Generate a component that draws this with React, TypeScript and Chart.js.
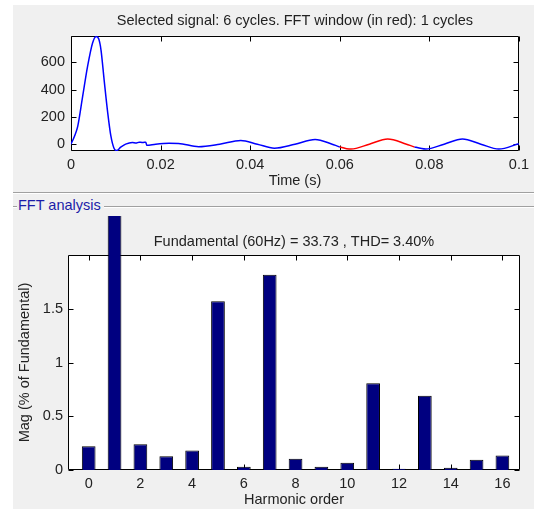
import React, { useEffect, useRef } from "react";
import { Chart, registerables } from "chart.js";

Chart.register(...registerables);

// ---------- DATA ----------
const topTitle = "Selected signal: 6 cycles. FFT window (in red): 1 cycles";
const bottomTitle = "Fundamental (60Hz) = 33.73 , THD= 3.40%";
const panelLabel = "FFT analysis";

const signalTime = [
  0, 0.0008, 0.0015, 0.0026, 0.0037, 0.0048, 0.0056, 0.0062, 0.0067, 0.0074,
  0.0082, 0.0089, 0.0096, 0.0102, 0.0111, 0.0122, 0.0137, 0.0145, 0.0152, 0.016,
  0.0167, 0.0169, 0.0189, 0.0219, 0.024, 0.0285, 0.0332, 0.0379, 0.0416, 0.0454,
  0.05, 0.0545, 0.0583, 0.06, 0.0625, 0.0666, 0.0707, 0.0749, 0.0767, 0.0792,
  0.0833, 0.0874, 0.0915, 0.0955, 0.1,
];
// Signal value at each time above
const signalValue = [
  0, 60, 130, 350, 570, 740, 790, 770, 690, 470,
  230, 60, -30, -47, -22, 0, 12, 8, 15, 12,
  15, -8, 0, 6, 5, -18, 0, 27, 0, -29,
  0, 34, 0, -20, -36, 0, 38, 0, -20, -36,
  0, 38, 0, -36, 4,
];
const fftWindowStart = 0.06;
const fftWindowEnd = 0.0767;

const timeTicks = [0, 0.02, 0.04, 0.06, 0.08, 0.1];
const timeTickLabels = ["0", "0.02", "0.04", "0.06", "0.08", "0.1"];
const signalTicks = [0, 200, 400, 600];

const harmonicOrder = [0, 1, 2, 3, 4, 5, 6, 7, 8, 9, 10, 11, 12, 13, 14, 15, 16];
const harmonicMag = [
  0.22, 100, 0.24, 0.127, 0.182, 1.57, 0.031, 1.817, 0.105, 0.031,
  0.068, 0.806, 0.012, 0.691, 0.02, 0.096, 0.136,
];
const harmonicTicks = [0, 2, 4, 6, 8, 10, 12, 14, 16];
const magTicks = [0, 0.5, 1, 1.5];
const magTickLabels = ["0", "0.5", "1", "1.5"];

// ---------- STYLE ----------
const FONT = '"Liberation Sans", Arial, sans-serif';
const TEXT = "#222222";
const FS = 14.5;

const matlabAxes = {
  id: "matlabAxes",
  beforeDraw(chart: any) {
    const { ctx, chartArea: a } = chart;
    ctx.save();
    ctx.fillStyle = "#ffffff";
    ctx.fillRect(a.left, a.top, a.right - a.left, a.bottom - a.top);
    ctx.restore();
  },
  beforeDatasetsDraw(chart: any) {
    const { ctx, chartArea: a, scales } = chart;
    const L = Math.round(a.left) + 0.5;
    const R = Math.round(a.right) - 0.5;
    const T = Math.round(a.top) + 0.5;
    const B = Math.round(a.bottom) - 0.5;
    const len = 5;
    ctx.save();
    ctx.strokeStyle = "#000";
    ctx.lineWidth = 1;
    ctx.beginPath();
    ctx.rect(L, T, R - L, B - T);
    const xs = scales.x;
    xs.ticks.forEach((t: any) => {
      const px = Math.round(xs.getPixelForValue(t.value)) + 0.5;
      ctx.moveTo(px, B);
      ctx.lineTo(px, B - len);
      ctx.moveTo(px, T);
      ctx.lineTo(px, T + len);
    });
    const ys = scales.y;
    ys.ticks.forEach((t: any) => {
      const py = Math.round(ys.getPixelForValue(t.value)) + 0.5;
      ctx.moveTo(L, py);
      ctx.lineTo(L + len, py);
      ctx.moveTo(R, py);
      ctx.lineTo(R - len, py);
    });
    ctx.stroke();
    ctx.restore();
  },
};

function SignalChart() {
  const ref = useRef<HTMLCanvasElement>(null);
  useEffect(() => {
    if (!ref.current) return;
    const data = signalTime.map((t, i) => ({ x: t, y: signalValue[i] }));
    const chart = new Chart(ref.current, {
      type: "line",
      data: {
        datasets: [
          {
            data,
            borderColor: "#0000ff",
            borderWidth: 1.5,
            pointRadius: 0,
            cubicInterpolationMode: "monotone",
            segment: {
              borderColor: (c: any) =>
                c.p0.parsed.x >= fftWindowStart - 1e-9 &&
                c.p1.parsed.x <= fftWindowEnd + 1e-9
                  ? "#ff0000"
                  : "#0000ff",
            },
          } as any,
        ],
      },
      options: {
        animation: false,
        responsive: false,
        events: [],
        layout: { padding: { left: 0, right: 14.5, top: 0, bottom: 0 } },
        plugins: {
          legend: { display: false },
          tooltip: { enabled: false },
          title: {
            display: true,
            fullSize: false,
            text: topTitle,
            color: TEXT,
            font: { family: FONT, size: FS, weight: "normal", lineHeight: 1.2 },
            padding: { top: 7.5, bottom: 5.8 },
          },
        },
        scales: {
          x: {
            type: "linear",
            min: 0,
            max: 0.1,
            afterBuildTicks: (s: any) => {
              s.ticks = timeTicks.map((v) => ({ value: v }));
            },
            afterFit: (s: any) => {
              s.height = 41;
            },
            grid: { display: false, drawTicks: false },
            border: { display: false },
            ticks: {
              color: TEXT,
              font: { family: FONT, size: FS },
              padding: 5,
              maxRotation: 0,
              callback: (v: any) => {
                const i = timeTicks.findIndex((t) => Math.abs(t - v) < 1e-9);
                return i >= 0 ? timeTickLabels[i] : "";
              },
            },
            title: {
              display: true,
              text: "Time (s)",
              color: TEXT,
              font: { family: FONT, size: FS, lineHeight: 1.2 },
              padding: { top: 0, bottom: 2.3 },
            },
          },
          y: {
            type: "linear",
            min: -50,
            max: 795,
            afterBuildTicks: (s: any) => {
              s.ticks = signalTicks.map((v) => ({ value: v }));
            },
            afterFit: (s: any) => {
              s.width = 58;
            },
            grid: { display: false, drawTicks: false },
            border: { display: false },
            ticks: {
              color: TEXT,
              font: { family: FONT, size: FS },
              padding: 6,
              callback: (v: any) => String(v),
            },
          },
        },
      },
      plugins: [matlabAxes],
    } as any);
    return () => chart.destroy();
  }, []);
  return (
    <canvas
      ref={ref}
      width={521}
      height={187}
      style={{ position: "absolute", left: 13, top: 5, width: 521, height: 187 }}
    />
  );
}

function HarmonicChart() {
  const ref = useRef<HTMLCanvasElement>(null);
  useEffect(() => {
    if (!ref.current) return;
    const data = harmonicOrder.map((h, i) => ({ x: h, y: harmonicMag[i] }));
    const chart = new Chart(ref.current, {
      type: "bar",
      data: {
        datasets: [
          {
            data,
            backgroundColor: "#000080",
            borderColor: "#000000",
            borderWidth: 1,
            categoryPercentage: 1,
            barPercentage: 0.53,
            clip: { left: 0, right: 0, bottom: 0, top: 80 },
          } as any,
        ],
      },
      options: {
        animation: false,
        responsive: false,
        events: [],
        layout: { padding: { left: 0, right: 14, top: 0, bottom: 0 } },
        plugins: {
          legend: { display: false },
          tooltip: { enabled: false },
          title: {
            display: true,
            fullSize: false,
            text: bottomTitle,
            color: TEXT,
            font: { family: FONT, size: FS, weight: "normal", lineHeight: 1.2 },
            padding: { top: 17, bottom: 4.6 },
          },
        },
        scales: {
          x: {
            type: "linear",
            min: -0.8,
            max: 16.68,
            offset: false,
            afterBuildTicks: (s: any) => {
              s.ticks = harmonicTicks.map((v) => ({ value: v }));
            },
            afterFit: (s: any) => {
              s.height = 39;
            },
            grid: { display: false, drawTicks: false },
            border: { display: false },
            ticks: {
              color: TEXT,
              font: { family: FONT, size: FS },
              padding: 5,
              maxRotation: 0,
              callback: (v: any) => String(v),
            },
            title: {
              display: true,
              text: "Harmonic order",
              color: TEXT,
              font: { family: FONT, size: FS, lineHeight: 1.2 },
              padding: { top: 0, bottom: 0 },
            },
          },
          y: {
            type: "linear",
            min: 0,
            max: 2,
            afterBuildTicks: (s: any) => {
              s.ticks = magTicks.map((v) => ({ value: v }));
            },
            afterFit: (s: any) => {
              s.width = 55;
            },
            grid: { display: false, drawTicks: false },
            border: { display: false },
            ticks: {
              color: TEXT,
              font: { family: FONT, size: FS },
              padding: 5,
              callback: (v: any) => {
                const i = magTicks.findIndex((t) => Math.abs(t - v) < 1e-9);
                return i >= 0 ? magTickLabels[i] : "";
              },
            },
            title: {
              display: true,
              text: "Mag (% of Fundamental)",
              color: TEXT,
              font: { family: FONT, size: FS, lineHeight: 1.2 },
              padding: { top: 3.3, bottom: 0 },
            },
          },
        },
      },
      plugins: [matlabAxes],
    } as any);
    return () => chart.destroy();
  }, []);
  return (
    <canvas
      ref={ref}
      width={521}
      height={293}
      style={{ position: "absolute", left: 13, top: 216, width: 521, height: 293 }}
    />
  );
}

export default function App() {
  return (
    <div
      style={{
        position: "fixed",
        left: 0,
        top: 0,
        width: 534,
        height: 509,
        background: "#ffffff",
        overflow: "hidden",
        fontFamily: FONT,
      }}
    >
      <div
        style={{ position: "absolute", left: 13, top: 5, width: 521, height: 504, background: "#f0f0f0" }}
      />
      <SignalChart />
      <div style={{ position: "absolute", left: 13, top: 192, width: 521, height: 1, background: "#a0a0a0" }} />
      <div style={{ position: "absolute", left: 13, top: 193, width: 521, height: 1, background: "#ffffff" }} />
      <div style={{ position: "absolute", left: 13, top: 206, width: 4, height: 1, background: "#a0a0a0" }} />
      <div style={{ position: "absolute", left: 13, top: 207, width: 4, height: 1, background: "#ffffff" }} />
      <div style={{ position: "absolute", left: 104, top: 206, width: 430, height: 1, background: "#a0a0a0" }} />
      <div style={{ position: "absolute", left: 104, top: 207, width: 430, height: 1, background: "#ffffff" }} />
      <div
        style={{
          position: "absolute",
          left: 18,
          top: 197,
          fontSize: FS,
          lineHeight: "17px",
          color: "#1c1ca8",
          whiteSpace: "nowrap",
        }}
      >
        {panelLabel}
      </div>
      <HarmonicChart />
    </div>
  );
}
